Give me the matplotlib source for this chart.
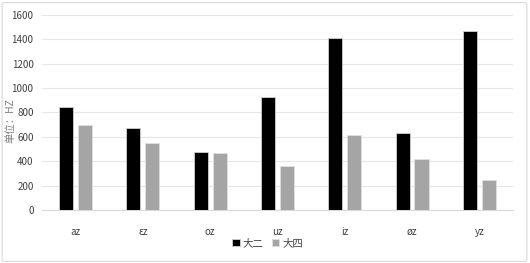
import matplotlib
matplotlib.use("Agg")
import matplotlib.pyplot as plt
import numpy as np
from matplotlib.patches import FancyBboxPatch

plt.rcParams['font.family'] = ['Noto Sans CJK SC', 'DejaVu Sans']

categories = ["az", "εz", "oz", "uz", "iz", "øz", "yz"]
sophomore = [845, 675, 472, 925, 1415, 628, 1465]   # 大二
senior = [695, 550, 465, 365, 612, 415, 245]        # 大四
series_names = ["大二", "大四"]
yticks = [0, 200, 400, 600, 800, 1000, 1200, 1400, 1600]

fig = plt.figure(figsize=(5.3, 2.63), dpi=100)
ax = fig.add_axes((0.079, 0.2015, 0.889, 0.7415))

x = np.arange(len(categories))
w = 0.21
gap = 0.035
ax.bar(x - w / 2 - gap, sophomore, w, color="#000000", edgecolor="#d0d0d0",
       linewidth=0.6, label=series_names[0], zorder=3)
ax.bar(x + w / 2 + gap, senior, w, color="#a5a5a5", edgecolor="#e0e0e0",
       linewidth=0.6, label=series_names[1], zorder=3)

ax.set_xlim(-0.5, len(categories) - 0.5)
ax.set_ylim(0, 1600)
ax.set_yticks(yticks)
ax.set_xticks(x)
ax.set_xticklabels(categories)
ax.tick_params(axis="both", length=0, labelsize=7, labelcolor="#404040")
ax.tick_params(axis="y", pad=6)
ax.tick_params(axis="x", pad=12)
ax.grid(axis="y", color="#e6e6e6", lw=0.8, zorder=0)
for s in ("top", "right", "left"):
    ax.spines[s].set_visible(False)
ax.spines["bottom"].set_color("#d9d9d9")
ax.set_ylabel("单位：HZ", fontsize=7.5, color="#7f7f7f")
ax.yaxis.set_label_coords(-0.057, 0.46)

fig.legend(loc="center", bbox_to_anchor=(0.505, 0.075), ncol=2, frameon=False,
           fontsize=7.5, handlelength=0.7, handleheight=0.7, handletextpad=0.3,
           columnspacing=0.8, labelcolor="#404040")

border = FancyBboxPatch((0.004, 0.006), 0.99, 0.984, transform=fig.transFigure,
                        boxstyle="round,pad=0,rounding_size=0.005",
                        fill=False, edgecolor="#d9d9d9", lw=0.8)
fig.patches.append(border)

fig.savefig("out.png", dpi=100)
